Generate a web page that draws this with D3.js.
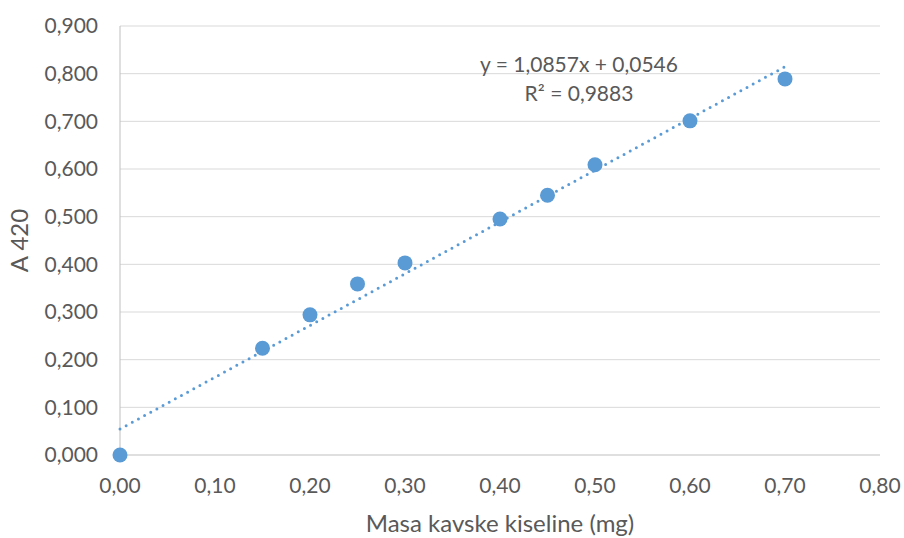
<!DOCTYPE html>
<html><head><meta charset="utf-8">
<script src="https://cdn.jsdelivr.net/npm/d3@7"></script>
<style>body{margin:0;background:#fff}svg{display:block}text{font-family:Lato,'Open Sans',sans-serif;fill:#595959}</style>
</head><body>
<script>
const xValues = [0.00, 0.15, 0.20, 0.25, 0.30, 0.40, 0.45, 0.50, 0.60, 0.70];
const yValues = [0.000, 0.224, 0.294, 0.359, 0.403, 0.495, 0.545, 0.609, 0.701, 0.789];
const xTicks = [0, 0.1, 0.2, 0.3, 0.4, 0.5, 0.6, 0.7, 0.8];
const yTicks = [0, 0.1, 0.2, 0.3, 0.4, 0.5, 0.6, 0.7, 0.8, 0.9];
const slope = 1.0857, intercept = 0.0546;
const trendRange = [0, 0.70];
const eqText = "y = 1,0857x + 0,0546";
const r2Text = "R² = 0,9883";
const xTitle = "Masa kavske kiseline (mg)";
const yTitle = "A 420";

const W = 904, H = 538;
const m = {l:120, r:24, t:26, b:83};
const svg = d3.select("body").append("svg").attr("width", W).attr("height", H);
const x = d3.scaleLinear().domain([0, 0.8]).range([m.l, W - m.r]);
const y = d3.scaleLinear().domain([0, 0.9]).range([H - m.b, m.t]);
const fmt = (d, n) => d.toFixed(n).replace(".", ",");

// gridlines
svg.append("g").selectAll("line").data(yTicks.filter(d => d > 0)).join("line")
  .attr("x1", x(0)).attr("x2", x(0.8)).attr("y1", d => y(d)).attr("y2", d => y(d))
  .attr("stroke", "#d9d9d9").attr("stroke-width", 1);
// axes lines
svg.append("line").attr("x1", x(0)).attr("x2", x(0.8)).attr("y1", y(0)).attr("y2", y(0)).attr("stroke", "#bfbfbf").attr("stroke-width", 1);
svg.append("line").attr("x1", x(0)).attr("x2", x(0)).attr("y1", y(0)).attr("y2", y(0.9)).attr("stroke", "#bfbfbf").attr("stroke-width", 1);

// tick labels
svg.append("g").selectAll("text").data(yTicks).join("text")
  .attr("x", x(0) - 22).attr("y", d => y(d)).attr("dy", "0.35em").attr("text-anchor", "end")
  .style("font-size", "21px").text(d => fmt(d, 3));
svg.append("g").selectAll("text").data(xTicks).join("text")
  .attr("x", d => x(d)).attr("y", y(0) + 38).attr("text-anchor", "middle")
  .style("font-size", "21px").text(d => fmt(d, 2));

// titles
svg.append("text").attr("x", (x(0) + x(0.8)) / 2).attr("y", 532).attr("text-anchor", "middle")
  .style("font-size", "24px").text(xTitle);
svg.append("text").attr("transform", `translate(28,${(y(0) + y(0.9)) / 2}) rotate(-90)`)
  .attr("text-anchor", "middle").style("font-size", "24px").text(yTitle);

// trendline
svg.append("line")
  .attr("x1", x(trendRange[0])).attr("y1", y(slope * trendRange[0] + intercept))
  .attr("x2", x(trendRange[1])).attr("y2", y(slope * trendRange[1] + intercept))
  .attr("stroke", "#5B9BD5").attr("stroke-width", 3).attr("stroke-linecap", "round")
  .attr("stroke-dasharray", "0,7");

// points
svg.append("g").selectAll("circle").data(xValues.map((v, i) => [v, yValues[i]])).join("circle")
  .attr("cx", d => x(d[0])).attr("cy", d => y(d[1])).attr("r", 7.5).attr("fill", "#5B9BD5");

// equation
svg.append("text").attr("x", 579).attr("y", 72).attr("text-anchor", "middle").style("font-size", "21px").text(eqText);
svg.append("text").attr("x", 579).attr("y", 101).attr("text-anchor", "middle").style("font-size", "21px").text(r2Text);
</script>
</body></html>
